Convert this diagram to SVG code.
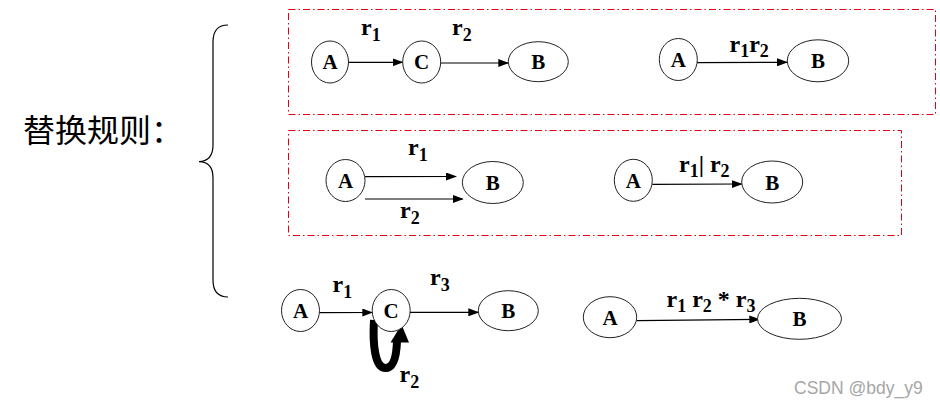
<svg xmlns="http://www.w3.org/2000/svg" width="940" height="409" viewBox="0 0 940 409">
<style>
.box{fill:none;stroke:#e60012;stroke-width:1;stroke-dasharray:7,3,1.5,3}
.nd{fill:#fff;stroke:#222;stroke-width:1}
.nt{font-family:"Liberation Serif",serif;font-weight:bold;font-size:21px;text-anchor:middle;fill:#000}
.lb{font-family:"Liberation Serif",serif;font-weight:bold;font-size:24px;fill:#000}
.sb{font-size:18px}
.ed{stroke:#000;stroke-width:1.2;fill:none;marker-end:url(#ah)}
</style>
<defs>
<marker id="ah" markerUnits="userSpaceOnUse" markerWidth="11" markerHeight="8" refX="10" refY="4" orient="auto">
<path d="M0,0 L11,4 L0,8 z" fill="#000"/>
</marker>
</defs>
<rect class="box" x="288.5" y="9.5" width="647" height="105"/>
<rect class="box" x="288.5" y="130.5" width="613" height="105"/>
<path d="M228,25 Q213,25 213,42 L213,145 Q213,161 199,161.7 Q213,162 213,178 L213,280 Q213,297 228,297" fill="none" stroke="#000" stroke-width="1.2"/>
<text x="23" y="142" font-family="'Noto Sans CJK SC',sans-serif" font-size="32" fill="#000">替换规则：</text>
<g id="connectors">
<line class="ed" x1="348" y1="62.3" x2="402.5" y2="62.3"/>
<line class="ed" x1="440.7" y1="63" x2="508.3" y2="63"/>
<line class="ed" x1="697" y1="62.7" x2="787" y2="62.3"/>
<line class="ed" x1="365" y1="176.7" x2="456" y2="176.5"/>
<line class="ed" x1="365" y1="199" x2="462.7" y2="199"/>
<line class="ed" x1="652.3" y1="184.3" x2="741.7" y2="184"/>
<line class="ed" x1="319.3" y1="312.7" x2="372.3" y2="312.5"/>
<line class="ed" x1="410" y1="312.3" x2="478.3" y2="312.3"/>
<line class="ed" x1="636.7" y1="320.7" x2="759.3" y2="319.3"/>
<path d="M374,320 C372.5,345 375,368 385.5,368 C394,368 396.5,356 397,341" fill="none" stroke="#000" stroke-width="8"/>
<polygon points="390.5,342.5 409,342.5 401.5,324.5" fill="#000"/>
</g>
<g id="labels">
<text class="lb" x="361" y="35">r<tspan class="sb" dy="5.5">1</tspan></text>
<text class="lb" x="452" y="35">r<tspan class="sb" dy="5.5">2</tspan></text>
<text class="lb" x="729.5" y="52">r<tspan class="sb" dy="5">1</tspan><tspan dy="-5">r</tspan><tspan class="sb" dy="5">2</tspan></text>
<text class="lb" x="408" y="155">r<tspan class="sb" dy="5.5">1</tspan></text>
<text class="lb" x="400" y="218">r<tspan class="sb" dy="5.5">2</tspan></text>
<text class="lb" x="679" y="172">r<tspan class="sb" dy="5">1</tspan><tspan dy="-5">| r</tspan><tspan class="sb" dy="5">2</tspan></text>
<text class="lb" x="332.5" y="292">r<tspan class="sb" dy="5.5">1</tspan></text>
<text class="lb" x="430" y="285">r<tspan class="sb" dy="5.5">3</tspan></text>
<text class="lb" x="399.5" y="382">r<tspan class="sb" dy="5.5">2</tspan></text>
<text class="lb" x="666.5" y="307">r<tspan class="sb" dy="5">1</tspan><tspan dy="-5"> r</tspan><tspan class="sb" dy="5">2</tspan><tspan dy="-5"> * r</tspan><tspan class="sb" dy="5">3</tspan></text>
</g>
<g id="n1A"><ellipse class="nd" cx="330" cy="62" rx="18.5" ry="21"/><text class="nt" x="330" y="69">A</text></g>
<g id="n1C"><ellipse class="nd" cx="421.7" cy="62" rx="19" ry="21"/><text class="nt" x="421.7" y="69">C</text></g>
<g id="n1B"><ellipse class="nd" cx="538.3" cy="61.7" rx="30" ry="20"/><text class="nt" x="538.3" y="69">B</text></g>
<g id="n2A"><ellipse class="nd" cx="678.3" cy="59.5" rx="19" ry="21"/><text class="nt" x="678.3" y="67">A</text></g>
<g id="n2B"><ellipse class="nd" cx="818" cy="60.8" rx="30.7" ry="21"/><text class="nt" x="818" y="68">B</text></g>
<g id="n3A"><ellipse class="nd" cx="345.5" cy="180.5" rx="19.5" ry="21"/><text class="nt" x="345.5" y="188">A</text></g>
<g id="n3B"><ellipse class="nd" cx="492.8" cy="182.5" rx="30.5" ry="21"/><text class="nt" x="492.8" y="190">B</text></g>
<g id="n4A"><ellipse class="nd" cx="633.3" cy="180.3" rx="19" ry="21"/><text class="nt" x="633.3" y="188">A</text></g>
<g id="n4B"><ellipse class="nd" cx="772.2" cy="182" rx="30.5" ry="21"/><text class="nt" x="772.2" y="189.5">B</text></g>
<g id="n5A"><ellipse class="nd" cx="300.5" cy="310.5" rx="19" ry="21"/><text class="nt" x="300.5" y="318">A</text></g>
<g id="n5C"><ellipse class="nd" cx="391.2" cy="310.5" rx="19" ry="21"/><text class="nt" x="391.2" y="318">C</text></g>
<g id="n5B"><ellipse class="nd" cx="508.3" cy="310.7" rx="30" ry="20"/><text class="nt" x="508.3" y="318">B</text></g>
<g id="n6A"><ellipse class="nd" cx="610" cy="317.2" rx="26.7" ry="20.5"/><text class="nt" x="610" y="324.5">A</text></g>
<g id="n6B"><ellipse class="nd" cx="799.5" cy="318.8" rx="42" ry="20.5"/><text class="nt" x="799.5" y="326">B</text></g>
<text x="794" y="394" font-family="'Liberation Sans',sans-serif" font-size="17.5" fill="#a6a6a6">CSDN @bdy_y9</text>
</svg>
